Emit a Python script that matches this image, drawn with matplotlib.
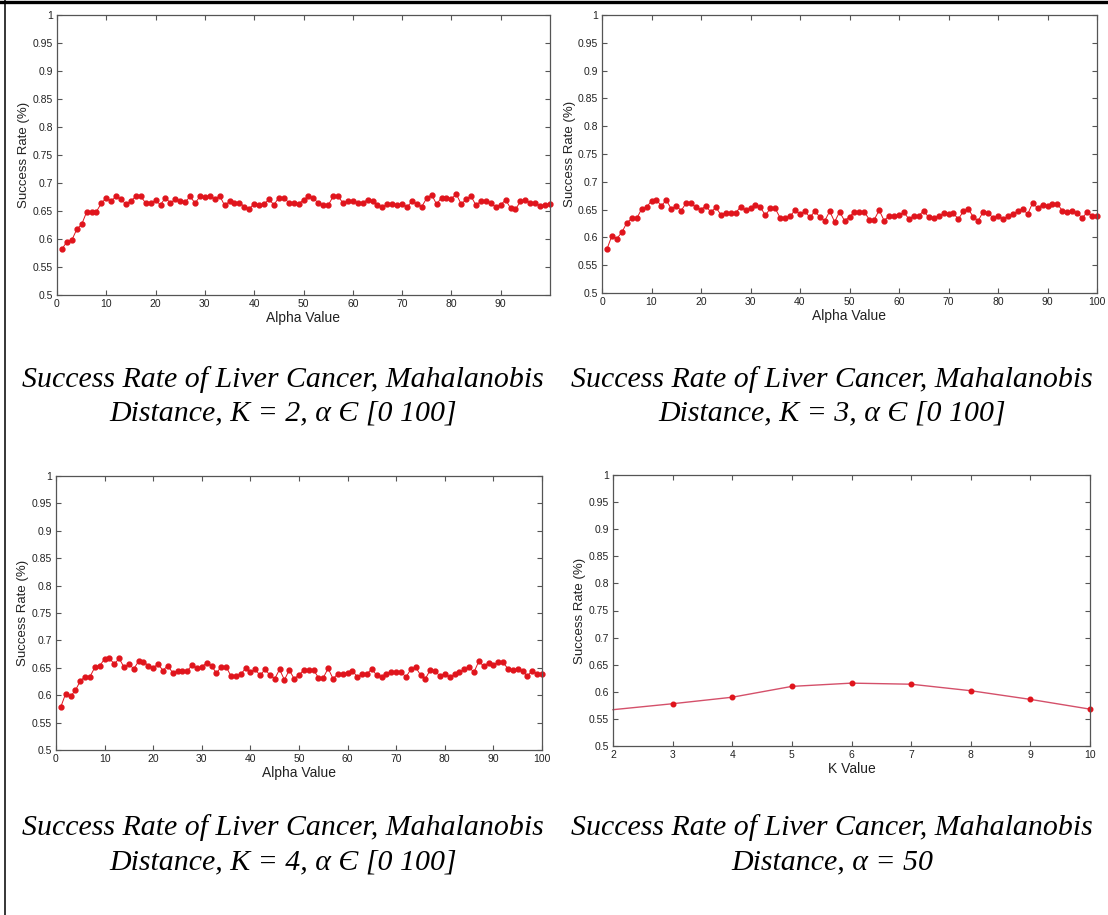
import matplotlib
matplotlib.use("Agg")
import matplotlib.pyplot as plt
from matplotlib.lines import Line2D
from matplotlib.ticker import FuncFormatter

# --- data ---
alpha = list(range(1, 101))

rate_k2 = [0.582, 0.595, 0.598, 0.617, 0.626, 0.648, 0.648, 0.649, 0.664, 0.673,
           0.668, 0.676, 0.671, 0.662, 0.668, 0.676, 0.676, 0.664, 0.664, 0.669,
           0.661, 0.674, 0.664, 0.671, 0.668, 0.666, 0.676, 0.664, 0.676, 0.675,
           0.677, 0.671, 0.677, 0.660, 0.667, 0.664, 0.665, 0.658, 0.654, 0.663,
           0.660, 0.662, 0.671, 0.661, 0.674, 0.674, 0.665, 0.665, 0.663, 0.670,
           0.676, 0.673, 0.664, 0.661, 0.660, 0.676, 0.677, 0.664, 0.668, 0.667,
           0.665, 0.665, 0.670, 0.667, 0.660, 0.657, 0.662, 0.662, 0.660, 0.663,
           0.657, 0.667, 0.663, 0.658, 0.673, 0.679, 0.662, 0.674, 0.674, 0.672,
           0.680, 0.662, 0.671, 0.676, 0.660, 0.668, 0.668, 0.664, 0.657, 0.661,
           0.670, 0.655, 0.653, 0.667, 0.670, 0.665, 0.665, 0.659, 0.661, 0.663]

rate_k3 = [0.579, 0.603, 0.598, 0.609, 0.626, 0.634, 0.634, 0.651, 0.654, 0.666,
           0.667, 0.657, 0.667, 0.651, 0.657, 0.648, 0.662, 0.661, 0.654, 0.650,
           0.657, 0.645, 0.654, 0.641, 0.644, 0.644, 0.644, 0.655, 0.649, 0.652,
           0.659, 0.654, 0.640, 0.652, 0.652, 0.635, 0.635, 0.638, 0.649, 0.642,
           0.647, 0.636, 0.647, 0.637, 0.630, 0.647, 0.628, 0.646, 0.630, 0.637,
           0.646, 0.646, 0.646, 0.632, 0.632, 0.649, 0.630, 0.639, 0.639, 0.641,
           0.645, 0.633, 0.639, 0.639, 0.648, 0.636, 0.634, 0.639, 0.643, 0.642,
           0.643, 0.633, 0.647, 0.651, 0.637, 0.630, 0.646, 0.644, 0.635, 0.639,
           0.633, 0.638, 0.642, 0.647, 0.651, 0.642, 0.662, 0.653, 0.659, 0.656,
           0.660, 0.660, 0.648, 0.646, 0.648, 0.644, 0.635, 0.645, 0.639, 0.639]

# the K = 4 panel in the source shows the same curve as K = 3
rate_k4 = list(rate_k3)

k_values = [2, 3, 4, 5, 6, 7, 8, 9, 10]
rate_alpha50 = [0.567, 0.578, 0.590, 0.610, 0.616, 0.614, 0.602, 0.586, 0.568]

captions = [
    ("Success Rate of Liver Cancer, Mahalanobis", "Distance, K = 2, \u03b1 \u0404 [0 100]"),
    ("Success Rate of Liver Cancer, Mahalanobis", "Distance, K = 3, \u03b1 \u0404 [0 100]"),
    ("Success Rate of Liver Cancer, Mahalanobis", "Distance, K = 4, \u03b1 \u0404 [0 100]"),
    ("Success Rate of Liver Cancer, Mahalanobis", "Distance, \u03b1 = 50"),
]

yticks = [0.5, 0.55, 0.6, 0.65, 0.7, 0.75, 0.8, 0.85, 0.9, 0.95, 1.0]

# --- figure ---
W, H = 1108, 915
fig = plt.figure(figsize=(W / 100, H / 100), dpi=100)
plt.rcParams["font.family"] = ["Liberation Sans", "DejaVu Sans"]


def box(l, r, t, b):
    return [l / W, 1 - b / H, (r - l) / W, (b - t) / H]


FRAME = "#555555"
RED = "#e0141c"


def style(ax, xlabel, xlim, xticks):
    ax.set_xlim(*xlim)
    ax.set_ylim(0.5, 1.0)
    ax.set_xticks(xticks)
    ax.set_yticks(yticks)
    ax.yaxis.set_major_formatter(FuncFormatter(lambda v, p: f"{v:g}"))
    ax.tick_params(direction="in", length=3.5, width=0.8, colors=FRAME,
                   labelcolor="#222222", labelsize=7.5, top=True, right=True, pad=3)
    for s in ax.spines.values():
        s.set_color(FRAME)
        s.set_linewidth(0.9)
    ax.set_xlabel(xlabel, fontsize=10, color="#222222", labelpad=1)
    ax.set_ylabel("Success Rate (%)", fontsize=9.5, color="#222222", labelpad=1.5)


ax1 = fig.add_axes(box(57, 550, 15, 295))
ax1.plot(alpha, rate_k2, "-o", color=RED, lw=0.7, ms=3.5, mec=RED, clip_on=False)
style(ax1, "Alpha Value", (0, 100), range(0, 100, 10))

ax2 = fig.add_axes(box(602, 1097, 15, 293))
ax2.plot(alpha, rate_k3, "-o", color=RED, lw=0.7, ms=3.5, mec=RED, clip_on=False)
style(ax2, "Alpha Value", (0, 100), range(0, 101, 10))

ax3 = fig.add_axes(box(56, 542, 476, 750))
ax3.plot(alpha, rate_k4, "-o", color=RED, lw=0.7, ms=3.5, mec=RED, clip_on=False)
style(ax3, "Alpha Value", (0, 100), range(0, 101, 10))

ax4 = fig.add_axes(box(613, 1090, 475, 746))
ax4.plot(k_values, rate_alpha50, "-", color="#d4506a", lw=1.0, clip_on=False)
ax4.plot(k_values[1:], rate_alpha50[1:], "o", color=RED, ms=3.3, mec=RED, clip_on=False)
style(ax4, "K Value", (2, 10), k_values)

# --- captions ---
cap_pos = [(283, 380, 413), (832, 380, 413), (283, 828, 862), (832, 828, 862)]
for (l1, l2), (cx, y1, y2) in zip(captions, cap_pos):
    for txt, yy in ((l1, y1), (l2, y2)):
        fig.text(cx / W, 1 - yy / H, txt, ha="center", va="center",
                 fontsize=21.5, style="italic", family=["Liberation Serif", "DejaVu Serif"])

# --- frame lines of the original table cell ---
fig.add_artist(Line2D([0, 1], [1 - 1.5 / H, 1 - 1.5 / H], color="black", lw=2.4))
fig.add_artist(Line2D([4.5 / W, 4.5 / W], [0, 1], color="black", lw=1.1))

fig.savefig("out.png", dpi=100)
